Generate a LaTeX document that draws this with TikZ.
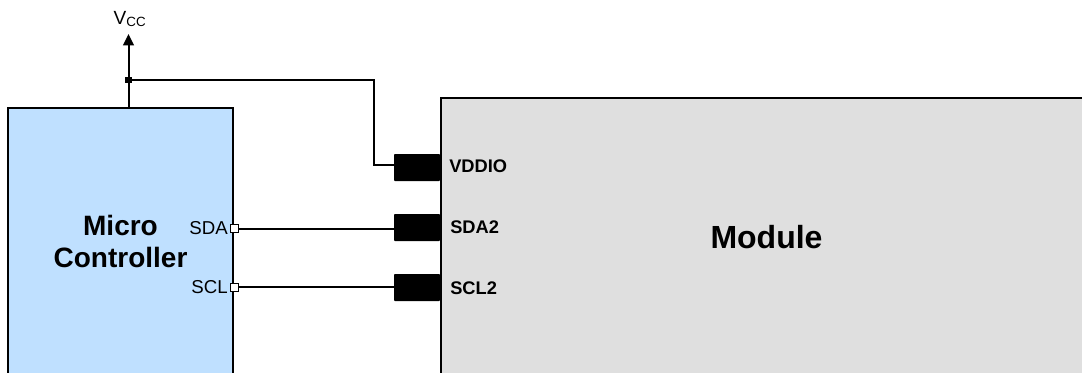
\documentclass[tikz,border=0pt]{standalone}
\usepackage{fontspec}
\setmainfont{Liberation Sans}
\usetikzlibrary{arrows.meta}
\tikzset{
  px/.style={x=0.75pt,y=-0.75pt},
  wire/.style={line width=1.5pt,draw=black},
  blockbox/.style={draw=black,line width=1.5pt,anchor=north west,inner sep=0pt,outer sep=0pt},
  pinbox/.style={fill=black,draw=none,inner sep=0pt,outer sep=0pt,minimum width=34.5pt,minimum height=20.25pt,rounded corners=0.6pt},
  port/.style={draw=black,fill=white,line width=0.6pt,inner sep=0pt,outer sep=0pt,minimum size=6pt},
  dot/.style={fill=black,inner sep=0pt,minimum size=5pt},
  pinlabel/.style={font=\fontsize{13.7pt}{16pt}\selectfont\bfseries,anchor=west,inner sep=0pt},
  portlabel/.style={font=\fontsize{14pt}{16pt}\selectfont,anchor=east,inner sep=0pt},
  title/.style={font=\fontsize{21pt}{24pt}\selectfont\bfseries,align=center,inner sep=0pt}
}
\begin{document}
\begin{tikzpicture}[px]
\useasboundingbox (0,0) rectangle (1082,372);
\clip (0,0) rectangle (1082,372);
\node[blockbox,fill={rgb,255:red,191;green,224;blue,255},minimum width=168.75pt,minimum height=300pt] (mcu) at (8,108) {};
\node[blockbox,fill={rgb,255:red,223;green,223;blue,223},minimum width=600pt,minimum height=300pt] (mod) at (441,98) {};
\node[pinbox] (p1) at (417,167.5) {};
\node[pinbox] (p2) at (417,227.5) {};
\node[pinbox] (p3) at (417,287.5) {};
\node[dot] (j) at (128.5,80) {};
\node[port] (sda) at (234,228.5) {};
\node[port] (scl) at (234,287) {};
\coordinate (mtop) at (128.5,108);
\coordinate (vtip) at (128.5,34);
\coordinate (c1) at (373.5,80);
\coordinate (c2) at (373.5,165);
\node[font=\fontsize{14.3pt}{16pt}\selectfont,inner sep=0pt] (vcc) at (130,19) {V\textsubscript{CC}};
\draw[wire,-{Triangle[length=8.5pt,width=8pt]}] (mtop) -- (vtip);
\draw[wire] (j.center) -- (c1) -- (c2) -- (p1.west |- c2);
\draw[wire] (sda) -- (p2.west |- sda);
\draw[wire] (scl) -- (p3.west |- scl);
\node[portlabel] (lsda) at (228,228) {SDA};
\node[portlabel] (lscl) at (228,287.5) {SCL};
\node[pinlabel] (l1) at (449,166.5) {VDDIO};
\node[pinlabel] (l2) at (450,227) {SDA2};
\node[pinlabel] (l3) at (450,288) {SCL2};
\node[title] (tm) at (120.5,241) {Micro\\Controller};
\node[font=\fontsize{24pt}{28pt}\selectfont\bfseries,inner sep=0pt] (tmod) at (766.5,237.5) {Module};
\end{tikzpicture}
\end{document}
